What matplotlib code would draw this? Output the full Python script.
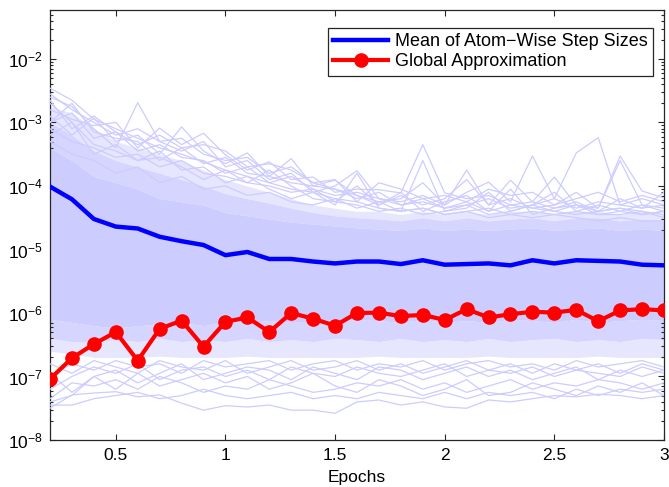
import numpy as np
import matplotlib
matplotlib.use("Agg")
import matplotlib.pyplot as plt
from matplotlib.ticker import LogLocator, NullFormatter, FixedLocator, LogFormatterSciNotation

plt.rcParams['font.family'] = ['Liberation Sans', 'DejaVu Sans']
plt.rcParams['mathtext.default'] = 'regular'

# ---------------- data (log10 of step size) ----------------
epochs = [0.2, 0.3, 0.4, 0.5, 0.6, 0.7, 0.8, 0.9, 1.0, 1.1, 1.2, 1.3, 1.4, 1.5,
          1.6, 1.7, 1.8, 1.9, 2.0, 2.1, 2.2, 2.3, 2.4, 2.5, 2.6, 2.7, 2.8, 2.9, 3.0]

mean_atom_log = [-4.01, -4.21, -4.52, -4.64, -4.67, -4.80, -4.87, -4.93, -5.09, -5.04,
                 -5.15, -5.15, -5.19, -5.22, -5.19, -5.19, -5.23, -5.17, -5.24, -5.23,
                 -5.22, -5.25, -5.17, -5.22, -5.17, -5.18, -5.19, -5.24, -5.25]

global_approx_log = [-7.04, -6.71, -6.49, -6.30, -6.75, -6.25, -6.12, -6.53, -6.14, -6.07,
                     -6.30, -6.00, -6.09, -6.20, -6.00, -5.995, -6.05, -6.03, -6.11, -5.94,
                     -6.07, -6.02, -5.98, -5.995, -5.95, -6.13, -5.96, -5.94, -5.96]

# dense core of the atom-wise step-size lines (solid band)
core_hi = [-3.4, -3.6, -3.85, -3.95, -4.05, -4.2, -4.25, -4.3, -4.42, -4.47, -4.52, -4.57, -4.6, -4.63,
           -4.66, -4.68, -4.7, -4.66, -4.7, -4.68, -4.7, -4.68, -4.66, -4.7, -4.68, -4.66, -4.7, -4.68, -4.7]
core_lo = [-6.1, -6.15, -6.2, -6.24, -6.2, -6.18, -6.15, -6.2, -6.14, -6.15, -6.12, -6.15, -6.12, -6.11,
           -6.1, -6.12, -6.15, -6.1, -6.15, -6.12, -6.15, -6.1, -6.12, -6.15, -6.1, -6.15, -6.12, -6.1, -6.12]
# semi-dense lines just outside the core
mid_hi = [-3.0, -3.2, -3.45, -3.6, -3.7, -3.8, -3.9, -4.0, -4.12, -4.2, -4.27, -4.35, -4.42, -4.47,
          -4.5, -4.52, -4.55, -4.5, -4.55, -4.5, -4.55, -4.52, -4.5, -4.55, -4.5, -4.5, -4.55, -4.52, -4.55]
mid_lo = [-6.4, -6.45, -6.45, -6.42, -6.45, -6.4, -6.45, -6.42, -6.45, -6.4, -6.45, -6.42, -6.45, -6.4,
          -6.42, -6.45, -6.4, -6.45, -6.42, -6.45, -6.4, -6.45, -6.42, -6.4, -6.45, -6.42, -6.45, -6.4, -6.42]
# outer edge of the semi-dense region
halo_hi = [-2.75, -2.85, -3.1, -3.3, -3.4, -3.5, -3.6, -3.75, -3.9, -4.0, -4.1, -4.2, -4.3, -4.35,
           -4.4, -4.4, -4.45, -4.4, -4.45, -4.4, -4.45, -4.4, -4.4, -4.45, -4.4, -4.4, -4.45, -4.4, -4.45]
halo_lo = [-6.6, -6.65, -6.7, -6.7, -6.7, -6.68, -6.7, -6.7, -6.7, -6.68, -6.7, -6.7, -6.7, -6.7,
           -6.7, -6.68, -6.7, -6.7, -6.7, -6.7, -6.68, -6.7, -6.7, -6.7, -6.7, -6.68, -6.7, -6.7, -6.7]

# individual sparse atom lines above the band
atom_up_1 = [-2.46, -2.65, -2.95, -3.10, -3.25, -3.40, -3.50, -3.62, -3.75, -3.85, -3.95, -4.05, -4.10, -4.20,
             -4.25, -4.35, -4.40, -4.35, -4.45, -4.40, -4.50, -4.45, -4.50, -4.45, -4.50, -4.55, -4.50, -4.55, -4.55]
atom_up_2 = [-2.60, -2.75, -3.10, -3.40, -2.69, -3.30, -3.45, -3.30, -3.70, -3.60, -3.90, -3.80, -4.10, -4.00,
             -3.76, -4.20, -4.30, -4.20, -4.35, -4.25, -4.40, -4.30, -4.35, -4.40, -4.30, -4.45, -4.40, -4.45, -4.40]
atom_up_3 = [-2.80, -2.95, -3.05, -3.00, -3.40, -3.09, -3.35, -3.17, -3.51, -3.75, -3.62, -3.90, -3.86, -4.10,
             -4.05, -4.06, -4.11, -3.35, -4.11, -4.20, -4.15, -4.30, -4.25, -4.35, -4.30, -4.40, -4.35, -4.40, -4.45]
atom_up_4 = [-2.90, -3.20, -2.93, -3.30, -3.20, -3.50, -3.07, -3.45, -3.65, -3.48, -3.85, -3.57, -4.00, -3.91,
             -4.15, -4.25, -4.20, -3.95, -4.30, -3.75, -4.30, -3.91, -4.25, -3.86, -4.30, -4.35, -3.53, -4.08, -4.19]
atom_up_5 = [-3.00, -2.85, -3.25, -3.15, -3.45, -3.35, -3.55, -3.60, -3.80, -3.70, -3.95, -3.85, -4.05, -4.15,
             -4.10, -4.20, -4.25, -4.15, -4.30, -4.10, -3.94, -4.25, -3.53, -4.20, -3.48, -3.24, -4.30, -4.20, -4.30]
atom_up_6 = [-3.10, -3.30, -3.40, -3.55, -3.50, -3.70, -3.60, -3.80, -3.85, -3.95, -3.75, -4.00, -4.20, -4.25,
             -4.00, -4.30, -4.15, -4.30, -4.20, -3.90, -4.30, -4.20, -4.35, -4.30, -4.10, -4.35, -3.60, -4.30, -4.35]
atom_up_7 = [-2.70, -3.00, -3.50, -3.35, -3.60, -3.45, -3.75, -3.70, -3.95, -3.85, -4.05, -4.20, -4.10, -4.30,
             -3.80, -4.35, -4.40, -3.60, -4.40, -4.35, -4.10, -4.40, -4.30, -4.10, -4.40, -4.30, -4.40, -4.30, -4.40]
atom_up_8 = [-3.30, -3.50, -3.60, -3.80, -3.70, -3.95, -3.85, -4.05, -4.00, -4.15, -4.10, -4.25, -4.30, -4.20,
             -4.35, -4.25, -4.40, -4.35, -4.45, -4.40, -4.35, -4.45, -4.40, -4.45, -4.40, -4.45, -4.45, -4.40, -4.50]
atom_up_9 = [-2.55, -2.80, -3.00, -3.20, -3.10, -3.30, -3.25, -3.50, -3.60, -3.55, -3.80, -3.70, -3.95, -4.05,
             -4.20, -4.10, -4.30, -4.25, -4.35, -4.30, -4.20, -4.35, -4.30, -4.20, -4.35, -4.25, -4.30, -4.35, -4.30]
atom_up_10 = [-2.65, -3.10, -2.90, -3.15, -3.35, -3.20, -3.40, -3.35, -3.45, -3.70, -3.65, -3.75, -3.95, -3.90,
              -4.25, -3.95, -4.05, -4.20, -4.15, -4.25, -4.05, -4.15, -4.10, -4.30, -4.20, -4.10, -4.25, -4.15, -4.25]
atom_up_11 = [-3.00, -2.70, -3.15, -3.25, -3.30, -3.60, -3.40, -3.65, -3.55, -3.80, -3.85, -3.95, -4.00, -4.05,
              -4.15, -4.30, -4.10, -4.40, -4.25, -4.15, -4.40, -4.05, -4.45, -4.35, -4.25, -4.40, -4.20, -4.35, -4.10]
atom_up_12 = [-3.20, -3.00, -3.35, -3.45, -3.60, -3.55, -3.70, -3.90, -3.75, -3.95, -4.00, -4.10, -4.05, -4.25,
              -4.30, -4.40, -4.35, -4.45, -4.40, -4.30, -4.45, -4.40, -4.30, -4.40, -4.45, -4.40, -4.35, -4.45, -4.40]

# individual sparse atom lines below the band
atom_lo_1 = [-7.50, -7.29, -7.26, -7.24, -7.32, -7.29, -7.42, -7.53, -7.46, -7.48, -7.45, -7.53, -7.53, -7.58,
             -7.40, -7.37, -7.45, -7.40, -7.48, -7.50, -7.37, -7.40, -7.35, -7.30, -7.32, -7.28, -7.30, -7.35, -7.30]
atom_lo_2 = [-7.35, -7.10, -7.15, -7.05, -7.20, -7.00, -7.10, -7.25, -7.15, -7.20, -7.05, -7.15, -7.25, -7.20,
             -7.10, -7.15, -7.05, -7.20, -7.10, -7.25, -7.15, -7.05, -7.20, -7.10, -7.15, -7.05, -7.10, -7.20, -7.10]
atom_lo_3 = [-7.20, -7.00, -6.85, -6.95, -6.80, -7.05, -6.90, -6.85, -7.00, -6.90, -7.05, -6.85, -6.95, -7.00,
             -6.85, -6.95, -7.00, -6.90, -6.80, -7.00, -6.90, -6.95, -6.85, -7.00, -6.90, -6.95, -7.00, -6.85, -6.95]
atom_lo_4 = [-6.95, -7.25, -7.00, -6.90, -7.10, -6.95, -6.80, -7.05, -6.95, -6.85, -6.90, -7.05, -6.85, -6.95,
             -7.05, -6.85, -6.90, -7.05, -6.95, -6.85, -7.00, -6.90, -7.05, -6.95, -6.85, -7.05, -6.90, -7.00, -6.90]
atom_lo_5 = [-7.00, -6.80, -6.90, -6.75, -6.85, -6.80, -6.95, -6.75, -6.85, -6.80, -6.75, -6.90, -6.80, -6.75,
             -6.90, -6.80, -6.85, -6.75, -6.90, -6.80, -6.75, -6.85, -6.80, -6.90, -6.75, -6.85, -6.80, -6.75, -6.85]
atom_lo_6 = [-7.40, -7.30, -7.00, -7.20, -6.95, -7.15, -7.05, -6.95, -7.10, -7.00, -7.20, -7.10, -6.95, -7.15,
             -7.25, -7.05, -7.15, -7.30, -7.20, -7.05, -7.30, -7.25, -7.10, -7.20, -7.30, -7.15, -7.25, -7.10, -7.30]
atom_lo_7 = [-6.80, -6.95, -6.75, -6.85, -6.95, -6.75, -6.85, -6.90, -6.75, -6.95, -6.85, -6.75, -6.90, -6.85,
             -6.75, -6.90, -6.80, -6.95, -6.85, -6.75, -6.90, -6.80, -6.95, -6.80, -6.90, -6.80, -6.95, -6.80, -6.90]
atom_lo_8 = [-7.45, -7.45, -7.35, -7.30, -7.25, -7.35, -7.30, -7.20, -7.30, -7.35, -7.30, -7.25, -7.35, -7.30,
             -7.35, -7.25, -7.30, -7.35, -7.25, -7.35, -7.25, -7.30, -7.25, -7.35, -7.20, -7.30, -7.20, -7.25, -7.20]

xticks = [0.5, 1, 1.5, 2, 2.5, 3]
xtick_labels = ['0.5', '1', '1.5', '2', '2.5', '3']
ytick_exponents = [-8, -7, -6, -5, -4, -3, -2]
label_mean = 'Mean of Atom\u2212Wise Step Sizes'
label_global = 'Global Approximation'
xlabel = 'Epochs'

# ---------------- plotting ----------------
W, H = 669, 487
fig = plt.figure(figsize=(W / 100, H / 100), dpi=100)
ax = fig.add_axes([50 / W, (H - 440) / H, 614 / W, 430 / H])

x = np.array(epochs)
p = lambda v: 10.0 ** np.asarray(v)
lav = '#ccccff'
inner = '#d5d5ff'
outer = '#e6e6ff'

ax.fill_between(x, p(mid_hi), p(halo_hi), color=outer, lw=0, zorder=1)
ax.fill_between(x, p(halo_lo), p(mid_lo), color=outer, lw=0, zorder=1)
ax.fill_between(x, p(core_hi), p(mid_hi), color=inner, lw=0, zorder=1.5)
ax.fill_between(x, p(mid_lo), p(core_lo), color=inner, lw=0, zorder=1.5)
ax.fill_between(x, p(core_lo), p(core_hi), color=lav, lw=0, zorder=2)

for ln in [atom_up_1, atom_up_2, atom_up_3, atom_up_4, atom_up_5, atom_up_6, atom_up_7, atom_up_8,
           atom_up_9, atom_up_10, atom_up_11, atom_up_12,
           atom_lo_1, atom_lo_2, atom_lo_3, atom_lo_4, atom_lo_5, atom_lo_6, atom_lo_7, atom_lo_8]:
    ax.plot(x, p(ln), color=lav, lw=0.9, zorder=3)

ax.plot(x, p(mean_atom_log), color=(0, 0, 1), lw=3.2, label=label_mean, zorder=5)
ax.plot(x, p(global_approx_log), color=(1, 0, 0), lw=3.0, marker='o', ms=9.5,
        label=label_global, zorder=6)

ax.set_yscale('log')
ax.set_xlim(0.2, 3.0)
ax.set_ylim(1e-8, 10 ** -1.23)
ax.xaxis.set_major_locator(FixedLocator(xticks))
ax.set_xticklabels(xtick_labels)
ax.yaxis.set_major_locator(FixedLocator([10.0 ** e for e in ytick_exponents]))
ax.yaxis.set_major_formatter(LogFormatterSciNotation(base=10))
ax.yaxis.set_minor_locator(LogLocator(base=10, subs=np.arange(2, 10), numticks=100))
ax.yaxis.set_minor_formatter(NullFormatter())

ax.tick_params(axis='both', which='both', direction='in', top=True, right=True,
               labelsize=12.5, colors='#262626', labelcolor='black', width=0.8)
ax.tick_params(axis='x', which='major', length=4.5, pad=6)
ax.tick_params(axis='y', which='major', length=4.5, pad=5)
ax.tick_params(axis='both', which='minor', length=2.3)
for s in ax.spines.values():
    s.set_color('#262626')
    s.set_linewidth(0.9)

ax.set_xlabel(xlabel, fontsize=12.5, labelpad=5)

leg = ax.legend(loc='upper right', bbox_to_anchor=((653 - 50) / 614, (440 - 28) / 430),
                borderaxespad=0, fontsize=13, frameon=True, fancybox=False,
                framealpha=1, edgecolor='#262626', handlelength=3.0, handletextpad=0.4,
                labelspacing=0.15, borderpad=0.3)
leg.get_frame().set_linewidth(0.9)

fig.savefig('out.png', dpi=100)
